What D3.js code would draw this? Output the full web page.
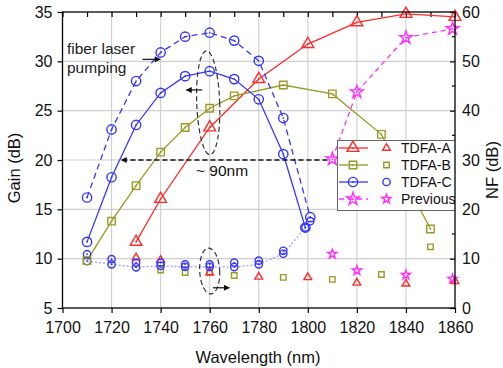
<!DOCTYPE html>
<html><head><meta charset="utf-8">
<script src="https://cdn.jsdelivr.net/npm/d3@7"></script>
<style>
html,body{margin:0;padding:0;background:#fff;}
svg{display:block;font-family:Arial,"Liberation Sans",Helvetica,sans-serif;}
</style></head>
<body>
<svg id="c" width="503" height="368"></svg>
<script>
// ---------- data ----------
const xTicks = [1700,1720,1740,1760,1780,1800,1820,1840,1860];
const yTicks = [5,10,15,20,25,30,35];
const nfTicks = [0,10,20,30,40,50,60];
const nfMinor = [5,15,25,35,45,55];

const gainA_x = [1730,1740,1760,1780,1800,1820,1840,1860];
const gainA   = [11.7,16.05,23.3,28.2,31.75,33.95,34.8,34.5];
const nfA_x   = [1730,1740,1760,1780,1800,1820,1840,1860];
const nfA     = [10.2,9.7,7.2,6.3,6.2,5.1,4.9,5.4];

const gainB_x = [1710,1720,1730,1740,1750,1760,1770,1790,1810,1830,1850];
const gainB   = [9.8,13.8,17.4,20.8,23.3,25.25,26.5,27.6,26.7,22.6,13.0];
const nfB_x   = [1740,1750,1760,1770,1790,1810,1830,1850];
const nfB     = [7.7,7.2,7.2,6.6,6.2,5.8,6.8,12.4];

const gainC_x = [1710,1720,1730,1740,1750,1760,1770,1780,1790,1799];
const gainC   = [11.7,18.25,23.55,26.8,28.5,29.0,28.2,26.15,20.6,13.15];
const gainCL_x = [1710,1720,1730,1740,1750,1760,1770,1780,1790,1801];
const gainCL   = [16.2,23.1,28.0,30.9,32.5,32.9,32.1,30.05,24.25,14.2];
const nfC_x   = [1710,1720,1730,1740,1750,1760,1770,1780,1790,1799];
const nfC     = [9.5,8.85,8.25,8.55,8.35,8.35,8.3,8.85,11.0,16.3];
const nfCL_x  = [1710,1720,1730,1740,1750,1760,1770,1780,1790,1801];
const nfCL    = [10.9,9.9,9.2,9.2,8.85,8.85,9.2,9.6,11.6,17.6];

const prev_x  = [1810,1820,1840,1859];
const prevGain = [20.1,26.9,32.4,33.3];
const prevNF  = [10.95,7.6,6.7,5.9];

const legendLabels = ["TDFA-A","TDFA-B","TDFA-C","Previous"];

// ---------- colours ----------
const RED = "#ff2b2b", OLIVE = "#9a9a26", BLUE = "#3636ff", MAG = "#ff2eff";

// ---------- scales ----------
const svg = d3.select("#c");
const x = d3.scaleLinear().domain([1700,1860]).range([62.5,455]);
const y = d3.scaleLinear().domain([5,35]).range([308,12]);
const yNF = d3.scaleLinear().domain([0,60]).range([308,12]);

// arrow markers
const defs = svg.append("defs");
defs.append("marker").attr("id","ah").attr("viewBox","0 0 10 10").attr("refX",9).attr("refY",5)
  .attr("markerWidth",7).attr("markerHeight",6).attr("markerUnits","userSpaceOnUse").attr("orient","auto")
  .append("path").attr("d","M0,0L10,5L0,10z").attr("fill","#111");
defs.append("clipPath").attr("id","legclip").append("rect")
  .attr("x",0).attr("y",0).attr("width",x(1860)).attr("height",368);

// ---------- grid ----------
const grid = svg.append("g");
grid.selectAll(".gx").data(xTicks.slice(1,-1)).join("line")
  .attr("x1",d=>x(d)).attr("x2",d=>x(d)).attr("y1",y(5)).attr("y2",y(35))
  .attr("stroke","#cfcfcf").attr("stroke-width",1.1);
grid.selectAll(".gy").data(yTicks.slice(1,-1)).join("line")
  .attr("y1",d=>y(d)).attr("y2",d=>y(d)).attr("x1",x(1700)).attr("x2",x(1860))
  .attr("stroke","#cfcfcf").attr("stroke-width",1.1);

// ---------- axes ----------
function styleAxis(g){
  g.select(".domain").remove();
  g.selectAll(".tick line").attr("stroke","#000").attr("stroke-width",1.2);
  g.selectAll(".tick text").attr("fill","#111").attr("font-size",16);
}
svg.append("g").attr("transform",`translate(0,${y(5)})`)
  .call(d3.axisBottom(x).tickValues(xTicks).tickFormat(d3.format("d")).tickSize(5).tickPadding(9)).call(styleAxis);
svg.append("g").attr("transform",`translate(0,${y(35)})`)
  .call(d3.axisTop(x).tickValues(d3.range(1700,1861,10)).tickFormat("").tickSize(-5)).call(styleAxis);
svg.append("g").attr("transform",`translate(${x(1700)},0)`)
  .call(d3.axisLeft(y).tickValues(yTicks).tickSize(5).tickPadding(5)).call(styleAxis);
const rAx = svg.append("g").attr("transform",`translate(${x(1860)},0)`)
  .call(d3.axisRight(yNF).tickValues(nfTicks).tickSize(-5).tickPadding(7)).call(styleAxis);
rAx.selectAll(".minor").data(nfMinor).join("line")
  .attr("x1",0).attr("x2",-3).attr("y1",d=>yNF(d)).attr("y2",d=>yNF(d))
  .attr("stroke","#000").attr("stroke-width",1.2);

// ---------- helpers ----------
function zip(xs,ys){ return xs.map((v,i)=>[v,ys[i]]); }
const lineG = d3.line().x(d=>x(d[0])).y(d=>y(d[1]));
const lineNF = d3.line().x(d=>x(d[0])).y(d=>yNF(d[1]));
const plot = svg.append("g");

function drawLine(pts,gen,color,dash,w){
  plot.append("path").datum(pts).attr("d",gen).attr("fill","none")
    .attr("stroke",color).attr("stroke-width",w||1.3).attr("stroke-dasharray",dash||null);
}
function drawMarkers(pts,sy,type,size,color,dot,g){
  const sym = d3.symbol().type(type).size(size);
  const gg = (g||plot).append("g");
  gg.selectAll("path").data(pts).join("path")
    .attr("transform",d=>`translate(${x(d[0])},${sy(d[1])})`)
    .attr("d",sym).attr("fill","none").attr("stroke",color).attr("stroke-width",1.4);
  if(dot){
    gg.selectAll("circle").data(pts).join("circle")
      .attr("cx",d=>x(d[0])).attr("cy",d=>sy(d[1])).attr("r",0.9).attr("fill",color);
  }
}

// NF-C dotted connecting line
drawLine(zip(nfC_x,nfC),lineNF,"#9a9aff","2,2",1.2);

// gain lines
drawLine(zip(gainA_x,gainA),lineG,RED,null,1.3);
drawLine(zip(gainB_x,gainB),lineG,OLIVE,null,1.3);
drawLine(zip(gainC_x,gainC),lineG,BLUE,null,1.3);
drawLine(zip(gainCL_x,gainCL),lineG,BLUE,"6,4",1.3);
drawLine(zip(prev_x,prevGain),lineG,MAG,"5,4",1.3);

// NF markers
drawMarkers(zip(nfB_x,nfB),yNF,d3.symbolSquare,30,OLIVE,false);
drawMarkers(zip(nfA_x,nfA),yNF,d3.symbolTriangle,26,RED,false);
drawMarkers(zip(nfC_x,nfC),yNF,d3.symbolCircle,42,BLUE,true);
drawMarkers(zip(nfCL_x,nfCL),yNF,d3.symbolCircle,42,BLUE,true);
drawMarkers(zip(prev_x,prevNF),yNF,d3.symbolStar,26,MAG,false);

// gain markers
drawMarkers(zip(gainB_x,gainB),y,d3.symbolSquare,56,OLIVE,true);
drawMarkers(zip(gainA_x,gainA),y,d3.symbolTriangle,60,RED,true);
drawMarkers(zip(gainC_x,gainC),y,d3.symbolCircle,68,BLUE,true);
drawMarkers(zip(gainCL_x,gainCL),y,d3.symbolCircle,68,BLUE,true);
drawMarkers(zip(prev_x,prevGain),y,d3.symbolStar,50,MAG,true);

// ---------- annotations ----------
const ann = svg.append("g");
// 90 nm dashed arrow at 20 dB
ann.append("line").attr("x1",x(1808)).attr("x2",x(1724)).attr("y1",y(20)).attr("y2",y(20))
  .attr("stroke","#111").attr("stroke-width",1.4).attr("stroke-dasharray","5,3").attr("marker-end","url(#ah)");
ann.append("text").attr("x",x(1754.4)).attr("y",y(18.35)).attr("font-size",15.5).attr("fill","#111").text("~ 90nm");
// dashed ellipses
ann.append("ellipse").attr("cx",x(1759.4)).attr("cy",y(25.8)).attr("rx",11.5).attr("ry",52)
  .attr("transform",`rotate(-2,${x(1759.4)},${y(25.8)})`)
  .attr("fill","none").attr("stroke","#333").attr("stroke-width",1.2).attr("stroke-dasharray","5,3");
ann.append("ellipse").attr("cx",x(1760)).attr("cy",yNF(7.5)).attr("rx",10).attr("ry",23)
  .attr("transform",`rotate(-3,${x(1760)},${yNF(7.5)})`)
  .attr("fill","none").attr("stroke","#333").attr("stroke-width",1.2).attr("stroke-dasharray","5,3");
// pointing arrows
ann.append("line").attr("x1",x(1757)).attr("x2",x(1750.5)).attr("y1",y(27.1)).attr("y2",y(27.1))
  .attr("stroke","#111").attr("stroke-width",1.2).attr("marker-end","url(#ah)");
ann.append("line").attr("x1",x(1761.3)).attr("x2",x(1768)).attr("y1",yNF(4.1)).attr("y2",yNF(4.1))
  .attr("stroke","#111").attr("stroke-width",1.2).attr("marker-end","url(#ah)");
ann.append("line").attr("x1",x(1732.6)).attr("x2",x(1739.8)).attr("y1",y(30.2)).attr("y2",y(30.2))
  .attr("stroke","#111").attr("stroke-width",1.2).attr("marker-end","url(#ah)");
ann.append("text").attr("x",67).attr("y",54).attr("font-size",15.5).attr("fill","#222").text("fiber laser");
ann.append("text").attr("x",67).attr("y",73).attr("font-size",15.5).attr("fill","#222").text("pumping");

// ---------- legend ----------
const leg = svg.append("g").attr("clip-path","url(#legclip)");
leg.append("rect").attr("x",337.5).attr("y",140.5).attr("width",130).attr("height",70)
  .attr("fill","#fff").attr("stroke","#666").attr("stroke-width",1);
const legRows = [
  {c:RED, t:d3.symbolTriangle, big:60, small:26, dash:null, dot:true},
  {c:OLIVE, t:d3.symbolSquare, big:56, small:30, dash:null, dot:true},
  {c:BLUE, t:d3.symbolCircle, big:68, small:42, dash:null, dot:true},
  {c:MAG, t:d3.symbolStar, big:50, small:26, dash:"5,4", dot:true}
];
legRows.forEach((r,i)=>{
  const cy = 148 + i*17;
  leg.append("line").attr("x1",339).attr("x2",368).attr("y1",cy).attr("y2",cy)
    .attr("stroke",r.c).attr("stroke-width",1.3).attr("stroke-dasharray",r.dash);
  leg.append("path").attr("transform",`translate(353,${cy})`).attr("d",d3.symbol().type(r.t).size(r.big))
    .attr("fill","none").attr("stroke",r.c).attr("stroke-width",1.4);
  leg.append("circle").attr("cx",353).attr("cy",cy).attr("r",0.9).attr("fill",r.c);
  leg.append("path").attr("transform",`translate(386.5,${cy})`).attr("d",d3.symbol().type(r.t).size(r.small))
    .attr("fill","none").attr("stroke",r.c).attr("stroke-width",1.4);
  leg.append("text").attr("x",401).attr("y",cy+5).attr("font-size",14).attr("fill","#111").text(legendLabels[i]);
});

// ---------- frame ----------
svg.append("rect").attr("x",x(1700)).attr("y",y(35)).attr("width",x(1860)-x(1700)).attr("height",y(5)-y(35))
  .attr("fill","none").attr("stroke","#000").attr("stroke-width",1.3);

// ---------- titles ----------
svg.append("text").attr("x",258).attr("y",363).attr("text-anchor","middle").attr("font-size",16.5).attr("fill","#111").text("Wavelength (nm)");
svg.append("text").attr("transform","translate(20,168) rotate(-90)").attr("text-anchor","middle").attr("font-size",16.5).attr("fill","#111").text("Gain (dB)");
svg.append("text").attr("transform","translate(498,170) rotate(-90)").attr("text-anchor","middle").attr("font-size",16.5).attr("fill","#111").text("NF (dB)");
</script>
</body></html>
